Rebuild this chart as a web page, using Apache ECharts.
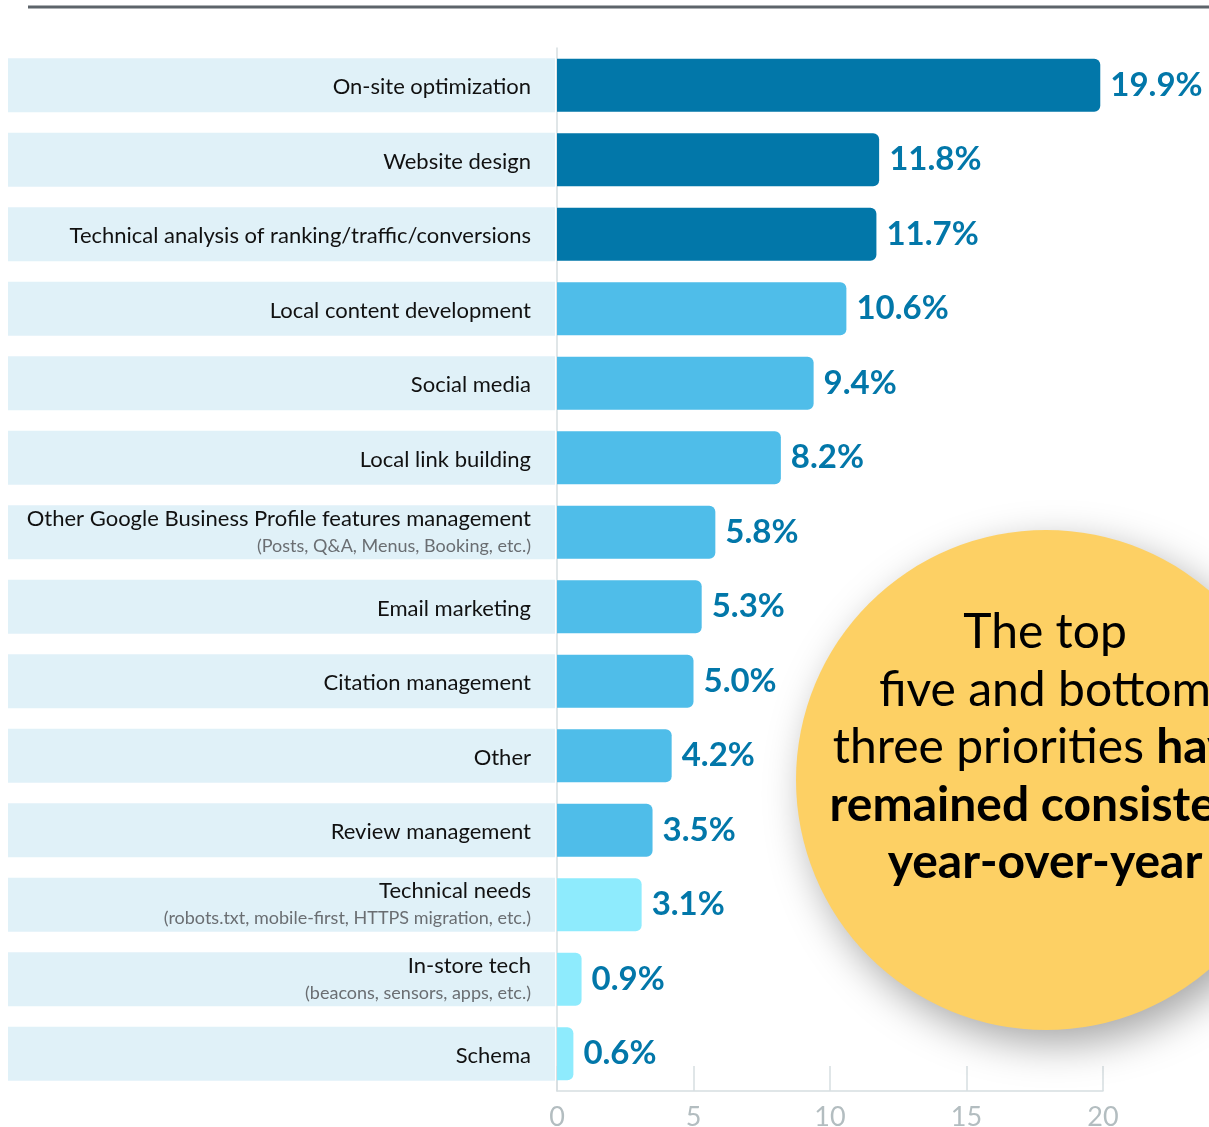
<!DOCTYPE html>
<html>
<head>
<meta charset="utf-8">
<title>Local SEO priorities</title>
<script src="https://cdn.jsdelivr.net/npm/echarts@6/dist/echarts.min.js"></script>
<style>
  html, body { margin: 0; padding: 0; background: #ffffff; overflow: hidden; }
  #chart { width: 1209px; height: 1127px; }
</style>
</head>
<body>
<div id="chart"></div>
<script>
// Priority names, optional detail lines and their shares (%)
const categories = [
  'On-site optimization',
  'Website design',
  'Technical analysis of ranking/traffic/conversions',
  'Local content development',
  'Social media',
  'Local link building',
  'Other Google Business Profile features management',
  'Email marketing',
  'Citation management',
  'Other',
  'Review management',
  'Technical needs',
  'In-store tech',
  'Schema'
];
const details = [
  '', '', '', '', '', '',
  '(Posts, Q&A, Menus, Booking, etc.)',
  '', '', '', '',
  '(robots.txt, mobile-first, HTTPS migration, etc.)',
  '(beacons, sensors, apps, etc.)',
  ''
];
const shares = [19.9, 11.8, 11.7, 10.6, 9.4, 8.2, 5.8, 5.3, 5.0, 4.2, 3.5, 3.1, 0.9, 0.6];
const xTicks = [0, 5, 10, 15, 20];

const FONT = 'Lato, "Noto Sans", sans-serif';
const DARK = '#0277a9';
const MID = '#4fbde9';
const LIGHT = '#8eebfd';

// top three and bottom three priorities get their own shades
function barColour(i) {
  if (i < 3) return DARK;
  if (i >= categories.length - 3) return LIGHT;
  return MID;
}

const chart = echarts.init(document.getElementById('chart'), null, { renderer: 'canvas' });

chart.setOption({
  backgroundColor: '#ffffff',
  animation: false,
  grid: { left: 557, right: 106, top: 48, bottom: 36, containLabel: false, outerBoundsMode: 'none' },
  xAxis: {
    type: 'value',
    min: xTicks[0],
    max: xTicks[xTicks.length - 1],
    interval: 5,
    axisLine: { show: true, lineStyle: { color: '#d6dee1', width: 1.5 } },
    axisTick: { show: true, inside: true, length: 25, lineStyle: { color: '#d6dee1', width: 1.5 } },
    splitLine: { show: false },
    axisLabel: { color: '#b3bdc0', fontSize: 27, fontFamily: FONT, margin: 13 }
  },
  yAxis: {
    type: 'category',
    inverse: true,
    data: categories,
    axisLine: { show: true, lineStyle: { color: '#d6dee1', width: 1.5 } },
    axisTick: { show: false },
    axisLabel: {
      margin: 2,
      align: 'right',
      width: 523,
      padding: [0, 24, 0, 0],
      backgroundColor: '#e0f1f8',
      formatter: function (value, idx) {
        const d = details[idx];
        return d ? '{m2|' + value + '}\n{s|' + d + '}' : '{m1|' + value + '}';
      },
      rich: {
        m1: { fontSize: 22, fontFamily: FONT, color: '#111111', lineHeight: 54, align: 'right', padding: [4, 0, 0, 0] },
        m2: { fontSize: 22, fontFamily: FONT, color: '#111111', lineHeight: 27, align: 'right' },
        s: { fontSize: 18, fontFamily: FONT, color: '#6a6e72', lineHeight: 27, align: 'right' }
      }
    }
  },
  series: [{
    type: 'bar',
    barWidth: 53,
    data: shares.map((v, i) => ({ value: v, itemStyle: { color: barColour(i) } })),
    itemStyle: { borderRadius: [0, 6, 6, 0] },
    label: {
      show: true,
      position: 'right',
      distance: 10,
      formatter: p => p.value.toFixed(1) + '%',
      color: DARK,
      fontSize: 33,
      fontWeight: 'bold',
      fontFamily: FONT
    }
  }],
  graphic: [
    {
      type: 'line',
      shape: { x1: 28, y1: 7, x2: 1209, y2: 7 },
      style: { stroke: '#5d646a', lineWidth: 3 },
      z: 10
    },
    {
      type: 'circle',
      shape: { cx: 1046, cy: 780, r: 250 },
      style: {
        fill: '#fdd064',
        shadowBlur: 40,
        shadowColor: 'rgba(0,0,0,0.35)',
        shadowOffsetX: 10,
        shadowOffsetY: 14
      },
      z: 20
    },
    {
      type: 'text',
      x: 1045,
      y: 604,
      style: {
        text: '{r|The top}\n{r|five and bottom}\n{r|three priorities }{b|have}\n{b|remained consistent}\n{b|year-over-year}',
        align: 'center',
        verticalAlign: 'top',
        rich: {
          r: { fontSize: 48, fontFamily: FONT, color: '#111111', lineHeight: 57.5 },
          b: { fontSize: 48, fontFamily: FONT, fontWeight: 'bold', color: '#111111', lineHeight: 57.5 }
        }
      },
      z: 21
    }
  ]
});
</script>
</body>
</html>
